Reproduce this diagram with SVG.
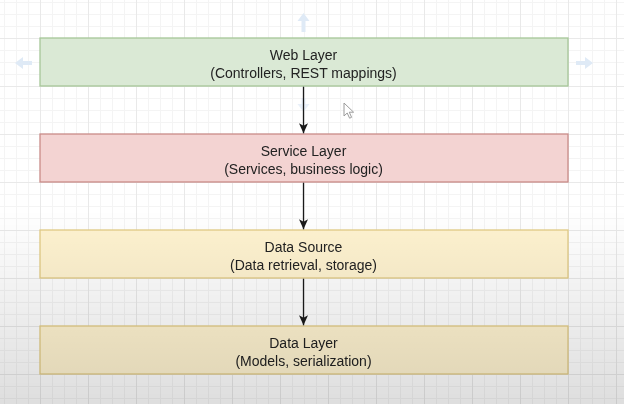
<svg xmlns="http://www.w3.org/2000/svg" width="624" height="404" viewBox="0 0 624 404">
  <style>
    .box { stroke-width: 1.3; }
    .label { font-family: "Liberation Sans", Arial, Helvetica, sans-serif; font-size: 14px; fill: #222222; text-anchor: middle; }
    .edge { stroke: #1a1a1a; stroke-width: 1.3; fill: none; }
    .hint { fill: #dfeaf6; }
  </style>
  <defs>
    <!-- drawing grid: minor lines every 12px, major every 48px -->
    <pattern id="grid" patternUnits="userSpaceOnUse" x="40" y="38" width="48" height="48">
      <rect x="0" y="0" width="48" height="48" fill="#ffffff"/>
      <rect x="12" y="0" width="1" height="48" fill="#f4f4f4"/>
      <rect x="24" y="0" width="1" height="48" fill="#f4f4f4"/>
      <rect x="36" y="0" width="1" height="48" fill="#f4f4f4"/>
      <rect x="0" y="12" width="48" height="1" fill="#f4f4f4"/>
      <rect x="0" y="24" width="48" height="1" fill="#f4f4f4"/>
      <rect x="0" y="36" width="48" height="1" fill="#f4f4f4"/>
      <rect x="0" y="0" width="1" height="48" fill="#e9e9e9"/>
      <rect x="0" y="0" width="48" height="1" fill="#e9e9e9"/>
    </pattern>
    <linearGradient id="shade" x1="0" y1="0" x2="0" y2="1">
      <stop offset="0" stop-color="#000" stop-opacity="0"/>
      <stop offset="1" stop-color="#000" stop-opacity="0.13"/>
    </linearGradient>
    <marker id="arrow" viewBox="0 0 10 10" refX="10" refY="5" markerWidth="10" markerHeight="10" markerUnits="userSpaceOnUse" orient="auto">
      <path d="M10,5 L0,0.5 L2.5,5 L0,9.5 Z" fill="#1a1a1a"/>
    </marker>
    <filter id="soft" x="-20%" y="-20%" width="140%" height="140%">
      <feGaussianBlur stdDeviation="0.7"/>
    </filter>
  </defs>

  <!-- canvas -->
  <rect x="0" y="0" width="624" height="404" fill="url(#grid)"/>

  <!-- hover direction hints around the selected shape -->
  <g id="hover-hints" class="hint" filter="url(#soft)">
    <path d="M303.5,13 L309.5,21 L305.5,21 L305.5,32 L301.5,32 L301.5,21 L297.5,21 Z"/>
    <path d="M15,63 L23,57 L23,61 L32,61 L32,65 L23,65 L23,69 Z"/>
    <path d="M593,63 L585,57 L585,61 L576,61 L576,65 L585,65 L585,69 Z"/>
    <path d="M303.5,112 L309.5,104 L305.5,104 L305.5,98 L301.5,98 L301.5,104 L297.5,104 Z" opacity="0.7"/>
  </g>

  <g id="node-web">
    <rect class="box" x="40" y="38" width="528" height="48" fill="#dae9d5" stroke="#a6c798"/>
    <text class="label" x="303.5" y="59.5">Web Layer</text>
    <text class="label" x="303.5" y="77.5">(Controllers, REST mappings)</text>
  </g>

  <g id="node-service">
    <rect class="box" x="40" y="134" width="528" height="48" fill="#f3d3d2" stroke="#c98b88"/>
    <text class="label" x="303.5" y="155.5">Service Layer</text>
    <text class="label" x="303.5" y="173.5">(Services, business logic)</text>
  </g>

  <g id="node-datasource">
    <rect class="box" x="40" y="230" width="528" height="48" fill="#fff3d0" stroke="#e2cb84"/>
    <text class="label" x="303.5" y="251.5">Data Source</text>
    <text class="label" x="303.5" y="269.5">(Data retrieval, storage)</text>
  </g>

  <g id="node-datalayer">
    <rect class="box" x="40" y="326" width="528" height="48" fill="#fff3d0" stroke="#e2cb84"/>
    <text class="label" x="303.5" y="347.5">Data Layer</text>
    <text class="label" x="303.5" y="365.5">(Models, serialization)</text>
  </g>

  <g id="connectors">
    <line class="edge" x1="303.5" y1="86.7" x2="303.5" y2="133.3" marker-end="url(#arrow)"/>
    <line class="edge" x1="303.5" y1="182.7" x2="303.5" y2="229.3" marker-end="url(#arrow)"/>
    <line class="edge" x1="303.5" y1="278.7" x2="303.5" y2="325.3" marker-end="url(#arrow)"/>
  </g>

  <!-- mouse pointer -->
  <path id="pointer" d="M344,103 L344,116 L347.2,113 L349.6,118.2 L351.6,117.3 L349.3,112.2 L353.6,112.2 Z" fill="#ffffff" stroke="#9a9a9a" stroke-width="1" stroke-linejoin="round"/>

  <!-- darkening toward the lower edge -->
  <rect x="0" y="210" width="624" height="194" fill="url(#shade)"/>
</svg>
